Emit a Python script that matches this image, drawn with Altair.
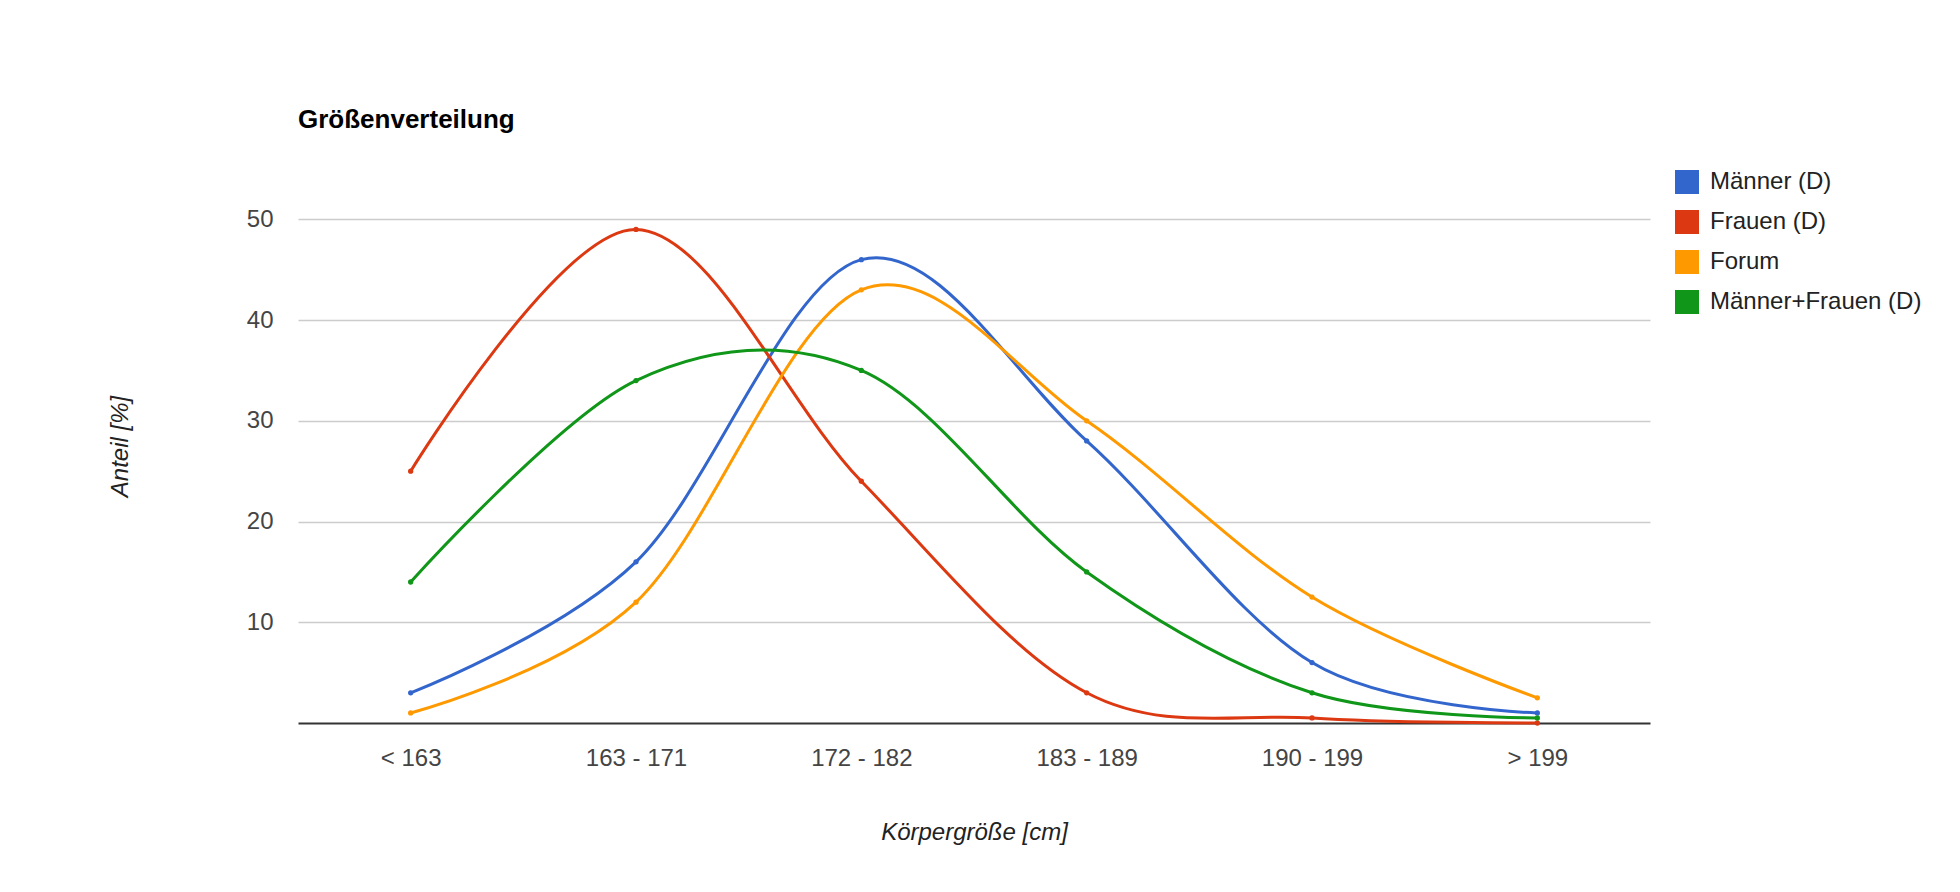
import altair as alt
import pandas as pd

categories = ["< 163", "163 - 171", "172 - 182", "183 - 189", "190 - 199", "> 199"]
series_names = ["Männer (D)", "Frauen (D)", "Forum", "Männer+Frauen (D)"]
maenner = [3, 16, 46, 28, 6, 1]
frauen = [25, 49, 24, 3, 0.5, 0]
forum = [1, 12, 43, 30, 12.5, 2.5]
beide = [14, 34, 35, 15, 3, 0.5]
colors = ["#3366cc", "#dc3912", "#ff9900", "#109618"]
y_ticks = [10, 20, 30, 40, 50]

rows = []
for name, vals in zip(series_names, [maenner, frauen, forum, beide]):
    for i, (c, v) in enumerate(zip(categories, vals)):
        rows.append({"Größe": c, "Anteil": v, "Serie": name, "order": series_names.index(name)})
df = pd.DataFrame(rows)

FONT = "Liberation Sans"

chart = alt.Chart(df).mark_line(
    interpolate="cardinal",
    strokeWidth=3,
    point=alt.OverlayMarkDef(filled=True, size=28),
).encode(
    x=alt.X(
        "Größe:N",
        sort=categories,
        scale=alt.Scale(type="point", padding=0.5),
        axis=alt.Axis(
            title="Körpergröße [cm]",
            labelAngle=0,
            ticks=False,
            grid=False,
            domainColor="#333333",
            domainWidth=2,
            labelPadding=23,
            labelFontSize=24,
            labelColor="#444444",
            labelFont=FONT,
            titleFont=FONT,
            titleFontSize=24,
            titleFontStyle="italic",
            titleFontWeight="normal",
            titleColor="#222222",
            titleBaseline="alphabetic",
            titleY=116,
        ),
    ),
    y=alt.Y(
        "Anteil:Q",
        scale=alt.Scale(domain=[0, 55], nice=False),
        axis=alt.Axis(
            title="Anteil [%]",
            values=y_ticks,
            ticks=False,
            domain=False,
            gridColor="#cccccc",
            gridWidth=1.5,
            labelPadding=25,
            labelFontSize=24,
            labelColor="#444444",
            labelFont=FONT,
            titleFont=FONT,
            titleFontSize=24,
            titleFontStyle="italic",
            titleFontWeight="normal",
            titleColor="#222222",
            titleBaseline="alphabetic",
            titleX=-171,
        ),
    ),
    color=alt.Color(
        "Serie:N",
        scale=alt.Scale(domain=series_names, range=colors),
        legend=alt.Legend(
            title=None,
            orient="none",
            legendX=1377,
            legendY=1,
            symbolType="square",
            symbolSize=576,
            symbolStrokeWidth=0,
            symbolOpacity=1,
            labelFontSize=24,
            labelFont=FONT,
            labelColor="#222222",
            labelOffset=11,
            rowPadding=16,
            labelLimit=400,
        ),
    ),
    order=alt.Order("order:Q"),
).properties(
    width=1352,
    height=554,
    background="white",
    title=alt.TitleParams(
        "Größenverteilung",
        anchor="start",
        frame="group",
        font=FONT,
        fontSize=26,
        fontWeight="bold",
        color="#000000",
        baseline="alphabetic",
        offset=15,
    ),
    autosize=alt.AutoSizeParams(type="none"),
    padding={"left": 290, "top": 161, "right": 300, "bottom": 150},
).configure_view(stroke="transparent", strokeWidth=0)

chart.save("out.html", embed_options={"renderer": "svg", "actions": False})
